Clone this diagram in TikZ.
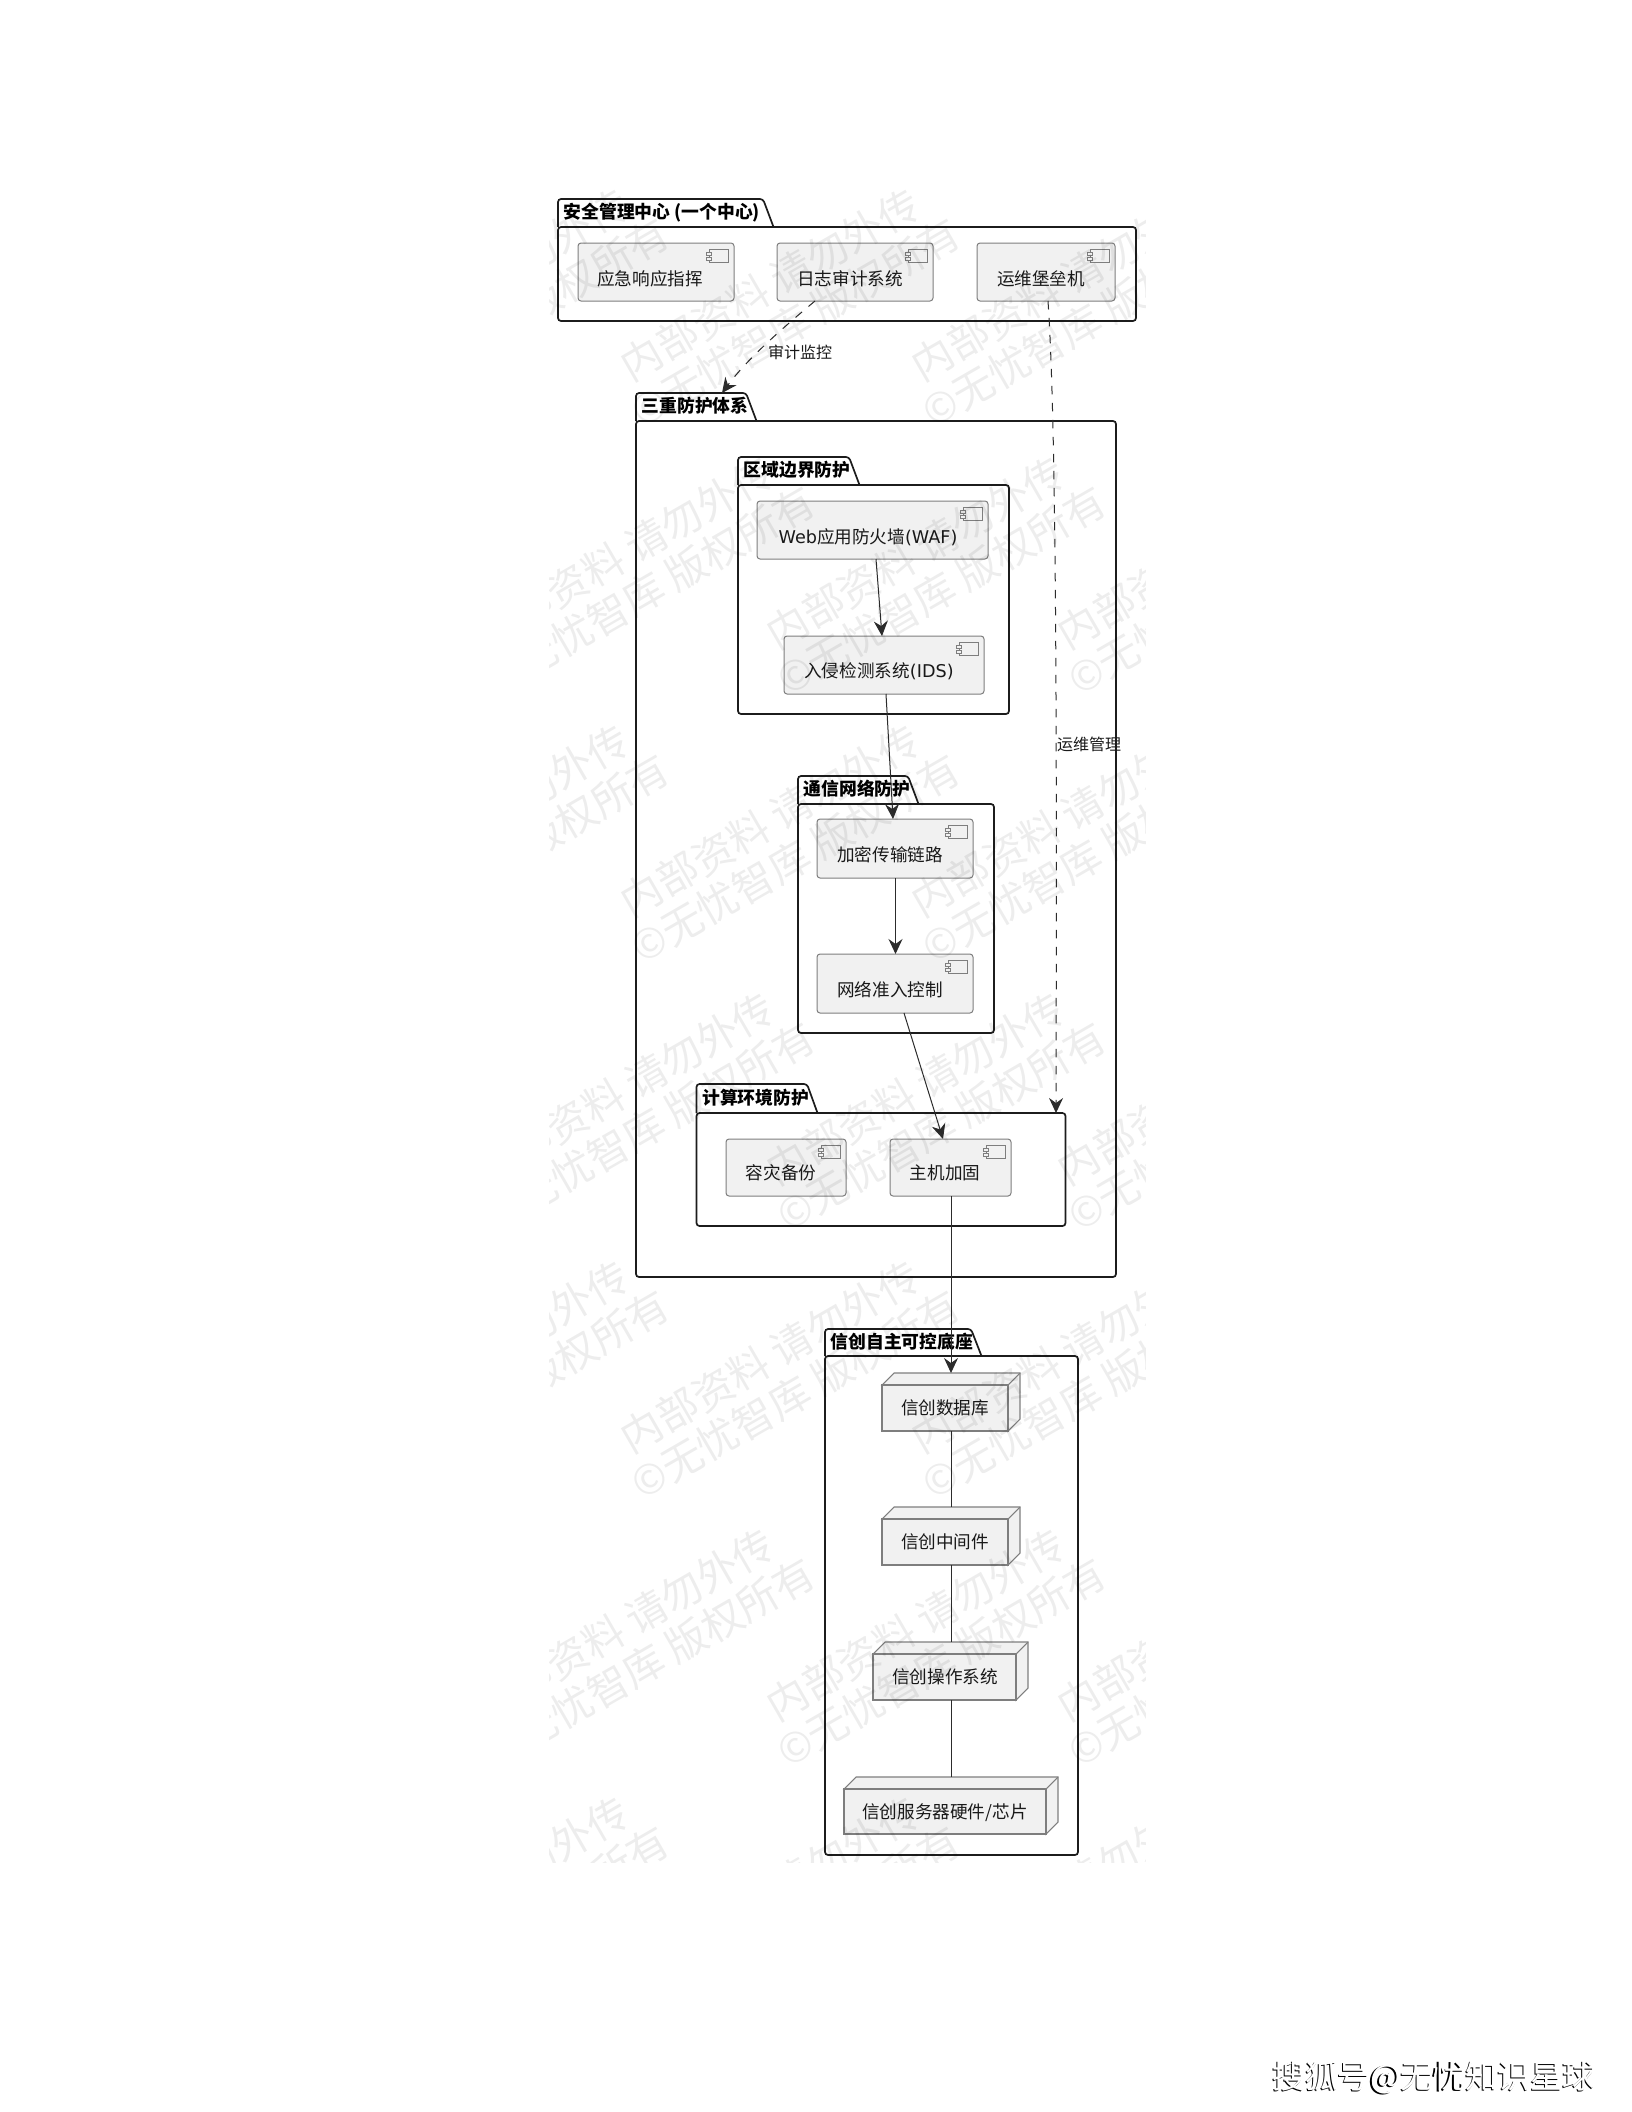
\documentclass[tikz,border=0pt]{standalone}
\usepackage{fontspec}
\setmainfont{Noto Sans CJK SC}
\newfontfamily\lat{DejaVu Sans}
\usetikzlibrary{arrows.meta,calc}
\definecolor{boxfill}{HTML}{F1F1F1}
\definecolor{boxline}{HTML}{7E7E7E}
\definecolor{pkgline}{HTML}{1C1C1C}
\definecolor{edgeline}{HTML}{2C2C2C}
\tikzset{
  pkgbody/.style={draw=pkgline,line width=1.7pt,rounded corners=3pt,inner sep=0,outer sep=0},
  pkgtab/.style={draw=pkgline,line width=1.7pt,rounded corners=3pt},
  pkgtext/.style={font=\fontsize{17.8}{20}\selectfont\bfseries,anchor=west,inner sep=0,text height=.85em,text depth=.12em},
  compshape/.style={draw=boxline,fill=boxfill,line width=1pt,rounded corners=3pt,inner sep=0,outer sep=0},
  iconpart/.style={draw=boxline,fill=boxfill,line width=.9pt},
  cubeshape/.style={draw=boxline,fill=boxfill,line width=1.1pt,inner sep=0,outer sep=0},
  boxtext/.style={font=\fontsize{17.6}{20}\selectfont,inner sep=0,text height=.85em,text depth=.12em,text=black!90},
  edgetext/.style={font=\fontsize{16}{18}\selectfont,inner sep=0,text height=.85em,text depth=.12em,text=black!90},
  flow/.style={draw=edgeline,line width=1pt,-{Stealth[length=15pt,width=14pt,inset=5pt]}},
  plainlink/.style={draw=edgeline,line width=1pt},
  dashflow/.style={flow,dash pattern=on 8.5pt off 8.5pt},
  wmark/.style={font=\fontsize{41}{46}\selectfont,text=black,text opacity=.07,rotate=30,anchor=west,inner sep=0},
}
% name, x1,y1,x2,y2, tab top, tab right, label
\newcommand\pkgbox[8]{%
  \node[pkgbody,minimum width={(#4-#2)*1pt},minimum height={(#5-#3)*1pt}] (#1) at ({(#2+#4)/2},{(#3+#5)/2}) {};
  \draw[pkgtab] (#2,#3) -- (#2,#6) -- (#7,#6) -- ({#7+10.5},#3);
  \node[pkgtext] (#1-title) at ({#2+5.5},{(#3+#6)/2+2}) {#8};
}
% name, x1,y1,x2,y2, text, tx, ty
\newcommand\compbox[8]{%
  \node[compshape,minimum width={(#4-#2)*1pt},minimum height={(#5-#3)*1pt}] (#1) at ({(#2+#4)/2},{(#3+#5)/2}) {};
  \draw[iconpart] ({#4-25},{#3+6.7}) rectangle ({#4-5.8},{#3+19.3});
  \draw[iconpart] ({#4-27.3},{#3+9.3}) rectangle ({#4-23},{#3+12.7});
  \draw[iconpart] ({#4-27.3},{#3+14}) rectangle ({#4-23},{#3+17.3});
  \node[boxtext] (#1-text) at ({#7+1},{#8+2.5}) {#6};
}
% name, x1,y1,x2,y2 (front face), text, tx, ty
\newcommand\cubebox[8]{%
  \draw[cubeshape] (#2,#3) -- ({#2+12},{#3-12}) -- ({#4+12},{#3-12}) -- ({#4+12},{#5-12}) -- (#4,#5) -- (#4,#3) -- cycle;
  \draw[cubeshape] (#4,#3) -- ({#4+12},{#3-12});
  \node[cubeshape,minimum width={(#4-#2)*1pt},minimum height={(#5-#3)*1pt}] (#1) at ({(#2+#4)/2},{(#3+#5)/2}) {};
  \node[boxtext] (#1-text) at ({#7+1},{#8+2.5}) {#6};
}
\begin{document}
\begin{tikzpicture}[x=1pt,y=-1pt]
\useasboundingbox (0,0) rectangle (1632,2112);
\fill[white] (0,0) rectangle (1632,2112);

% packages
\pkgbox{center}{558}{227}{1136}{321}{199}{763}{安全管理中心 (一个中心)}
\pkgbox{triple}{636}{421}{1116}{1277}{393}{746}{三重防护体系}
\pkgbox{zone}{738}{485}{1009}{714}{457}{849}{区域边界防护}
\pkgbox{net}{798}{804}{994}{1033}{776}{908}{通信网络防护}
\pkgbox{calc}{696.5}{1113}{1065.5}{1226}{1084}{807}{计算环境防护}
\pkgbox{base}{825}{1356}{1078}{1855}{1329}{971}{信创自主可控底座}

% components
\compbox{resp}{578}{243}{734}{301}{应急响应指挥}{649}{279}
\compbox{log}{777}{243}{933}{301}{日志审计系统}{849}{279}
\compbox{ops}{977}{243}{1115}{301}{运维堡垒机}{1040}{279}
\compbox{waf}{757}{501}{988}{559}{{\lat Web}应用防火墙{\lat (WAF)}}{867}{537}
\compbox{ids}{784}{636}{984}{694}{入侵检测系统{\lat (IDS)}}{878}{671}
\compbox{enc}{817}{819}{973}{878}{加密传输链路}{889}{855}
\compbox{nac}{817}{954}{973}{1013}{网络准入控制}{889}{990}
\compbox{dr}{726}{1139}{846}{1196}{容灾备份}{780}{1173}
\compbox{host}{890}{1139}{1011}{1196}{主机加固}{944}{1173}

% base nodes
\cubebox{db}{882}{1385}{1008}{1431}{信创数据库}{944}{1408}
\cubebox{mid}{882}{1519}{1008}{1565}{信创中间件}{944}{1542}
\cubebox{os}{873}{1654}{1016}{1700}{信创操作系统}{944}{1677}
\cubebox{hw}{844}{1789}{1046}{1834}{信创服务器硬件/芯片}{944}{1812}

% connectors
\coordinate (triple-tab) at (722,393);
\path[dashflow] ([xshift=-40pt]log.south) .. controls (785,326) and (748,358) .. (triple-tab);
\node[edgetext] (audit) at (800,355) {审计监控};
\path[dashflow] ([xshift=2pt]ops.south) .. controls (1056,420) and (1057,700) .. ([xshift=175pt]calc.north);
\node[edgetext] (opsman) at (1089,747) {运维管理};
\path[flow] ([xshift=3.5pt]waf.south) -- ([xshift=-2pt]ids.north);
\path[flow] ([xshift=2pt]ids.south) -- ([xshift=-2pt]enc.north);
\path[flow] ([xshift=0.5pt]enc.south) -- ([xshift=0.5pt]nac.north);
\path[flow] ([xshift=9pt]nac.south) -- ([xshift=-7.5pt]host.north);
\path[flow] ([xshift=0.5pt]host.south) -- ([xshift=6pt,yshift=12pt]db.north);
\path[plainlink] ([xshift=6pt]db.south) -- ([xshift=6pt,yshift=12pt]mid.north);
\path[plainlink] ([xshift=6pt]mid.south) -- ([xshift=6.5pt,yshift=12pt]os.north);
\path[plainlink] ([xshift=6.5pt]os.south) -- ([xshift=6pt,yshift=12pt]hw.north);

% watermark
\begin{scope}
\clip (549,186) rectangle (1145,1862);
\foreach \r in {-4,...,2}{
  \foreach \k in {-3,...,5}{
    \pgfmathsetmacro\xc{647+145.5*\r+291*\k}
    \pgfmathsetmacro\yc{1476+268*\r}
    \pgfmathtruncatemacro\keep{and(\xc>220,\xc<1170)}
    \ifnum\keep=1
      \node[wmark] (wa\r\k) at (\xc-23,\yc-35) {内部资料 请勿外传};
      \node[wmark] (wb\r\k) at (\xc-12,\yc+11) {©无忧智库 版权所有};
    \fi
  }
}
\end{scope}

% source mark
\node[font=\fontsize{32.4}{36}\selectfont,text=black,inner sep=0] (src-shadow) at (1432.8,2079) {搜狐号@无忧知识星球};
\node[font=\fontsize{32.4}{36}\selectfont,text=white,inner sep=0] (src) at (1434,2078) {搜狐号@无忧知识星球};
\end{tikzpicture}
\end{document}
